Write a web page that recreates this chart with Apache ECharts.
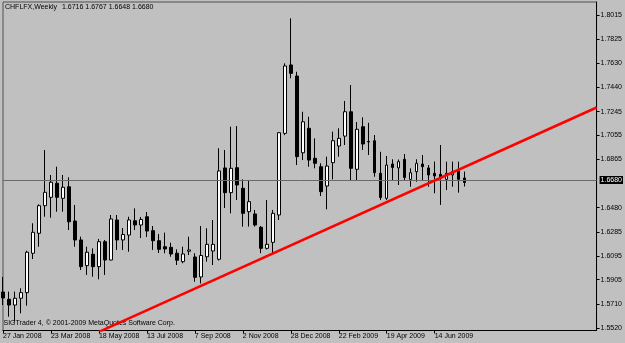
<!DOCTYPE html>
<html>
<head>
<meta charset="utf-8">
<script src="https://cdn.jsdelivr.net/npm/echarts@6.0.0/dist/echarts.min.js"></script>
<style>
html,body{margin:0;padding:0;background:#c0c0c0;}
#chart{width:625px;height:343px;}
</style>
</head>
<body>
<div id="chart"></div>
<script>
// Weekly CHF/LFX bars starting 27 Jan 2008
const opens  = [1.5807,1.5749,1.5703,1.5757,1.5802,1.6116,1.6275,1.6495,1.6562,1.6674,
                1.6554,1.6646,1.6373,1.6222,1.6017,1.6108,1.6009,1.6208,1.6062,1.6381,
                1.6222,1.6261,1.6375,1.6341,1.6407,1.6296,1.6216,1.6168,1.6163,1.6116,
                1.6049,1.6132,1.6086,1.5927,1.6088,1.6134,1.6068,1.6796,1.6599,1.6798,
                1.6634,1.6447,1.6429,1.6323,1.6155,1.6203,1.6421,1.7072,1.7617,1.7529,
                1.6917,1.7112,1.6873,1.6806,1.6652,1.6838,1.6971,1.7050,1.7244,1.6785,
                1.7125,1.7007,1.7013,1.6753,1.6554,1.6827,1.6796,1.6865,1.6705,1.6766,
                1.6827,1.6796,1.6753,1.6745,1.6705,1.6740,1.6774,1.6716];
const highs  = [1.5927,1.5810,1.5810,1.5837,1.6136,1.6355,1.6506,1.6939,1.6740,1.6806,
                1.6740,1.6721,1.6501,1.6248,1.6168,1.6155,1.6230,1.6222,1.6421,1.6421,
                1.6317,1.6407,1.6474,1.6405,1.6445,1.6333,1.6269,1.6280,1.6200,1.6147,
                1.6168,1.6248,1.6116,1.6333,1.6315,1.6381,1.6953,1.6939,1.7125,1.7130,
                1.6705,1.6700,1.6461,1.6333,1.6540,1.6461,1.7082,1.7630,1.7989,1.7563,
                1.7244,1.7204,1.7032,1.6833,1.6886,1.7085,1.7112,1.7330,1.7457,1.7162,
                1.7200,1.7156,1.7058,1.6925,1.6891,1.6865,1.6863,1.6907,1.6793,1.6865,
                1.6899,1.6819,1.6847,1.6979,1.6846,1.6846,1.6846,1.6767];
const lows   = [1.5703,1.5610,1.5570,1.5637,1.5698,1.6070,1.6168,1.6407,1.6399,1.6447,
                1.6447,1.6301,1.6168,1.5982,1.5943,1.5929,1.5908,1.5943,1.6058,1.6142,
                1.6142,1.6128,1.6301,1.6237,1.6245,1.6142,1.6118,1.6116,1.6088,1.6022,
                1.6036,1.6102,1.5889,1.5875,1.6049,1.6022,1.6058,1.6477,1.6434,1.6540,
                1.6328,1.6328,1.6328,1.6116,1.6146,1.6116,1.6381,1.7058,1.7510,1.6819,
                1.6859,1.6806,1.6793,1.6572,1.6466,1.6705,1.6886,1.6979,1.6700,1.6700,
                1.6939,1.6899,1.6726,1.6540,1.6540,1.6700,1.6660,1.6692,1.6646,1.6686,
                1.6700,1.6646,1.6594,1.6501,1.6620,1.6646,1.6599,1.6648];
const closes = [1.5759,1.5703,1.5757,1.5802,1.6124,1.6283,1.6495,1.6602,1.6682,1.6562,
                1.6642,1.6367,1.6222,1.6009,1.6124,1.6009,1.6208,1.6062,1.6389,1.6222,
                1.6265,1.6381,1.6341,1.6385,1.6293,1.6216,1.6147,1.6150,1.6110,1.6060,
                1.6110,1.6142,1.5924,1.6098,1.6187,1.6187,1.6772,1.6599,1.6793,1.6660,
                1.6434,1.6527,1.6341,1.6155,1.6187,1.6434,1.7077,1.7609,1.7550,1.6886,
                1.7164,1.6859,1.6833,1.6607,1.6811,1.7013,1.7032,1.7244,1.6793,1.7104,
                1.6987,1.7003,1.6758,1.6560,1.6819,1.6800,1.6846,1.6720,1.6758,1.6833,
                1.6806,1.6740,1.6732,1.6726,1.6753,1.6766,1.6705,1.6680];
// Trend line end points: [bar index, price]
const trendIdx    = [16, 99];
const trendPrices = [1.5489, 1.7278];
// Axis tick labels
const xTickLabels = ["27 Jan 2008","23 Mar 2008","18 May 2008","13 Jul 2008","7 Sep 2008",
                     "2 Nov 2008","28 Dec 2008","22 Feb 2009","19 Apr 2009","14 Jun 2009"];
const yTicks = [1.5520,1.5710,1.5905,1.6095,1.6285,1.6480,1.6865,1.7055,1.7245,1.7440,1.7630,1.7825,1.8015];
const symbolName = "CHFLFX,Weekly";
const copyright = "SIGTrader 4, \u00A9 2001-2009 MetaQuotes Software Corp.";
const totalSlots = 100;

const MONTHS = ["Jan","Feb","Mar","Apr","May","Jun","Jul","Aug","Sep","Oct","Nov","Dec"];
const start = Date.UTC(2008, 0, 27);
const categories = [];
for (let i = 0; i < totalSlots; i++) {
  const d = new Date(start + i * 7 * 86400000);
  categories.push(d.getUTCDate() + " " + MONTHS[d.getUTCMonth()] + " " + d.getUTCFullYear());
}
const candleData = opens.map((o, i) => [o, closes[i], lows[i], highs[i]]);
const trendData = trendIdx.map((x, i) => [x, trendPrices[i]]);
const n = opens.length;
const last = n - 1;
const FONT = "Liberation Sans";
const showTick = (idx) => idx % 8 === 0 && xTickLabels.indexOf(categories[idx]) >= 0;

const chart = echarts.init(document.getElementById('chart'), null, {renderer: 'canvas'});
chart.setOption({
  animation: false,
  backgroundColor: '#c0c0c0',
  textStyle: {fontFamily: FONT},
  grid: {left: 2.7, right: 28.3, top: 2, bottom: 12.5, show: true,
         borderColor: '#505050', borderWidth: 1, backgroundColor: 'transparent'},
  xAxis: {
    type: 'category', data: categories, boundaryGap: false,
    axisLine: {show: true, lineStyle: {color: '#000', width: 1}},
    axisTick: {show: true, length: 3, interval: showTick, lineStyle: {color: '#000'}},
    axisLabel: {interval: showTick, align: 'left', margin: 2, fontSize: 7, color: '#000',
                fontFamily: FONT, formatter: v => xTickLabels.indexOf(v) >= 0 ? v : ''},
    splitLine: {show: false}
  },
  yAxis: {
    type: 'value', position: 'right', min: 1.5500, max: 1.8119,
    axisLine: {show: true, lineStyle: {color: '#000', width: 1}},
    axisTick: {show: true, length: 3, customValues: yTicks, lineStyle: {color: '#000'}},
    axisLabel: {customValues: yTicks, formatter: v => v.toFixed(4), margin: 4,
                fontSize: 7, color: '#000', fontFamily: FONT},
    splitLine: {show: false}
  },
  series: [
    {
      type: 'candlestick', data: candleData, barWidth: 3, silent: true,
      itemStyle: {color: '#ffffff', color0: '#000000', borderColor: '#000000',
                  borderColor0: '#000000', borderWidth: 1},
      markLine: {
        silent: true, symbol: ['none', 'none'], animation: false,
        lineStyle: {color: '#6a6a6a', width: 1, type: 'solid'},
        label: {show: true, position: 'end', distance: 3, formatter: closes[last].toFixed(4),
                color: '#fff', backgroundColor: '#000', padding: [1, 1, 0, 1],
                fontSize: 7, fontFamily: FONT, lineHeight: 7},
        emphasis: {disabled: true},
        data: [{yAxis: closes[last]}]
      }
    },
    {
      type: 'line', data: trendData, symbol: 'none', silent: true, clip: true, z: 5,
      lineStyle: {color: '#ff0000', width: 2.5}
    }
  ],
  graphic: [
    {type: 'text', left: 5, top: 3.5, silent: true,
     style: {text: symbolName, fill: '#000', font: '7px "' + FONT + '"'}},
    {type: 'text', left: 62, top: 3.5, silent: true,
     style: {text: [opens[last], highs[last], lows[last], closes[last]].map(v => v.toFixed(4)).join(' '),
             fill: '#000', font: '7px "' + FONT + '"'}},
    {type: 'text', left: 3.5, top: 319.5, silent: true,
     style: {text: copyright, fill: '#000', font: '7px "' + FONT + '"'}}
  ]
});
</script>
</body>
</html>
